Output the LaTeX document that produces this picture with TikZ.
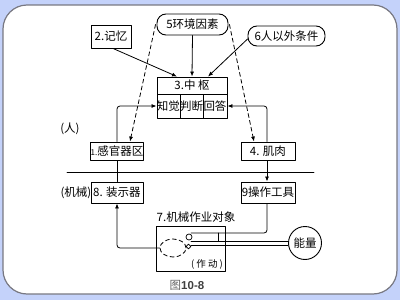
\documentclass[tikz,border=0pt]{standalone}
\usepackage{fontspec}
\setmainfont{Noto Sans CJK SC}
\newfontfamily\capfont{Liberation Sans}
\usetikzlibrary{arrows.meta,shapes.geometric}
\definecolor{bgblue}{RGB}{196,210,250}
\definecolor{frame}{RGB}{120,120,130}
\begin{document}
\begin{tikzpicture}[x=1pt,y=-1pt,line join=round,line cap=round,>={Latex[length=5pt,width=4pt]},font=\fontsize{11.5}{12}\selectfont]
	\tikzset{
	box/.style={draw,line width=0.9pt,inner sep=0pt},
	oval/.style={draw,line width=0.9pt,inner sep=0pt,rounded corners=9pt,minimum height=21pt},
	link/.style={line width=0.8pt,rounded corners=3pt},
	dashlink/.style={line width=0.8pt,dash pattern=on 4pt off 3pt}
	}
	\useasboundingbox (0,0) rectangle (400,300);
	\fill[bgblue] (0,0) rectangle (400,300);
	\filldraw[fill=white,draw=frame,line width=1.2pt,rounded corners=24pt] (3,5) rectangle (397,294);
	% upper row
	\node[box,minimum width=40pt,minimum height=23pt] (mem) at (111,36.5) {2.记忆};
	\node[oval,minimum width=71pt] (env) at (192.5,24.5) {5环境因素};
	\node[oval,minimum width=77pt,minimum height=20pt] (ext) at (286.5,36) {6人以外条件};
	% central unit
	\node[box,minimum width=70pt,minimum height=17pt] (ctop) at (192,85.5) {3.中 枢};
	\node[box,minimum width=23pt,minimum height=24pt] (cperc) at (168.5,106) {知觉};
	\node[box,minimum width=23pt,minimum height=24pt] (cjudg) at (191.5,106) {判断};
	\node[box,minimum width=24pt,minimum height=24pt] (cresp) at (215,106) {回答};
	% man / machine
	\node at (70,129) {(人)};
	\node at (76,192.5) {(机械)};
	\node[box,minimum width=52pt,minimum height=18pt] (sen) at (117,151) {{\fontsize{8}{9}\selectfont 1.}感官器区};
	\node[box,minimum width=54pt,minimum height=18pt] (mus) at (268,151) {4. 肌肉};
	\node[box,minimum width=52pt,minimum height=21pt] (disp) at (117,192.5) {8. 装示器};
	\node[box,minimum width=54pt,minimum height=21pt] (tool) at (268,192.5) {9操作工具};
	\coordinate (sepl) at (67,172);
	\coordinate (sepr) at (314,172);
	\draw[line width=0.9pt] (sepl) -- (sepr);
	% work object
	\node (objlbl) at (196,217) {7.机械作业对象};
	\node[box,minimum width=69pt,minimum height=45pt] (obj) at (190.5,248.5) {};
	\node[font=\fontsize{9.5}{10}\selectfont] (objact) at (207,264) {( 作 动 )};
	\node[draw,dashlink,ellipse,minimum width=26pt,minimum height=18pt,inner sep=0pt] (act) at (173,248) {};
	\node[draw,circle,line width=0.7pt,minimum size=6pt,inner sep=0pt] (knob) at (189,237) {};
	\node[draw,diamond,line width=0.6pt,minimum size=5pt,inner sep=0pt] (hook) at (188.5,246.5) {};
	\node[draw,circle,line width=0.9pt,minimum size=33pt,inner sep=0pt] (pow) at (305,243) {能量};
	\coordinate (ra) at (191,233);
	\coordinate (rb) at (191,241);
	\coordinate (rc) at (191,245);
	\coordinate (stub) at (218.5,233);
	% connectors
	\draw[link,->] ([xshift=2pt]mem.south) -- ([xshift=-15pt]ctop.north);
	\draw[link,->] (env.south) -- (ctop.north);
	\draw[link,->] ([yshift=-3pt]ext.west) -- ([xshift=16pt]ctop.north);
	\draw[dashlink,->] ([xshift=-1pt]env.west) -- ([xshift=13pt]sen.north);
	\draw[dashlink,->] ([xshift=1pt]env.east) -- ([xshift=-14pt]mus.north);
	\draw[link,->] (sen.north) |- (cperc.west);
	\draw[link,->] ([xshift=-1pt]mus.north) |- (cresp.east);
	\draw[link] (sen.south) -- (disp.north);
	\draw[link,->] ([xshift=-1pt]mus.south) -- ([xshift=-1pt]tool.north);
	\draw[link] ([xshift=-1pt]tool.south) |- (ra);
	\draw[link] (stub) -- (stub |- rb);
	\draw[link] (rb) -- (rb -| pow.west);
	\draw[link] (rc) -- (rc -| pow.west);
	\draw[link,->] (act.west) -| (disp.south);
	% caption
	\node (cap) at (187,285) {{\color{gray!80!black}图}{\capfont\bfseries\color{black!75}10-8}};
\end{tikzpicture}
\end{document}
